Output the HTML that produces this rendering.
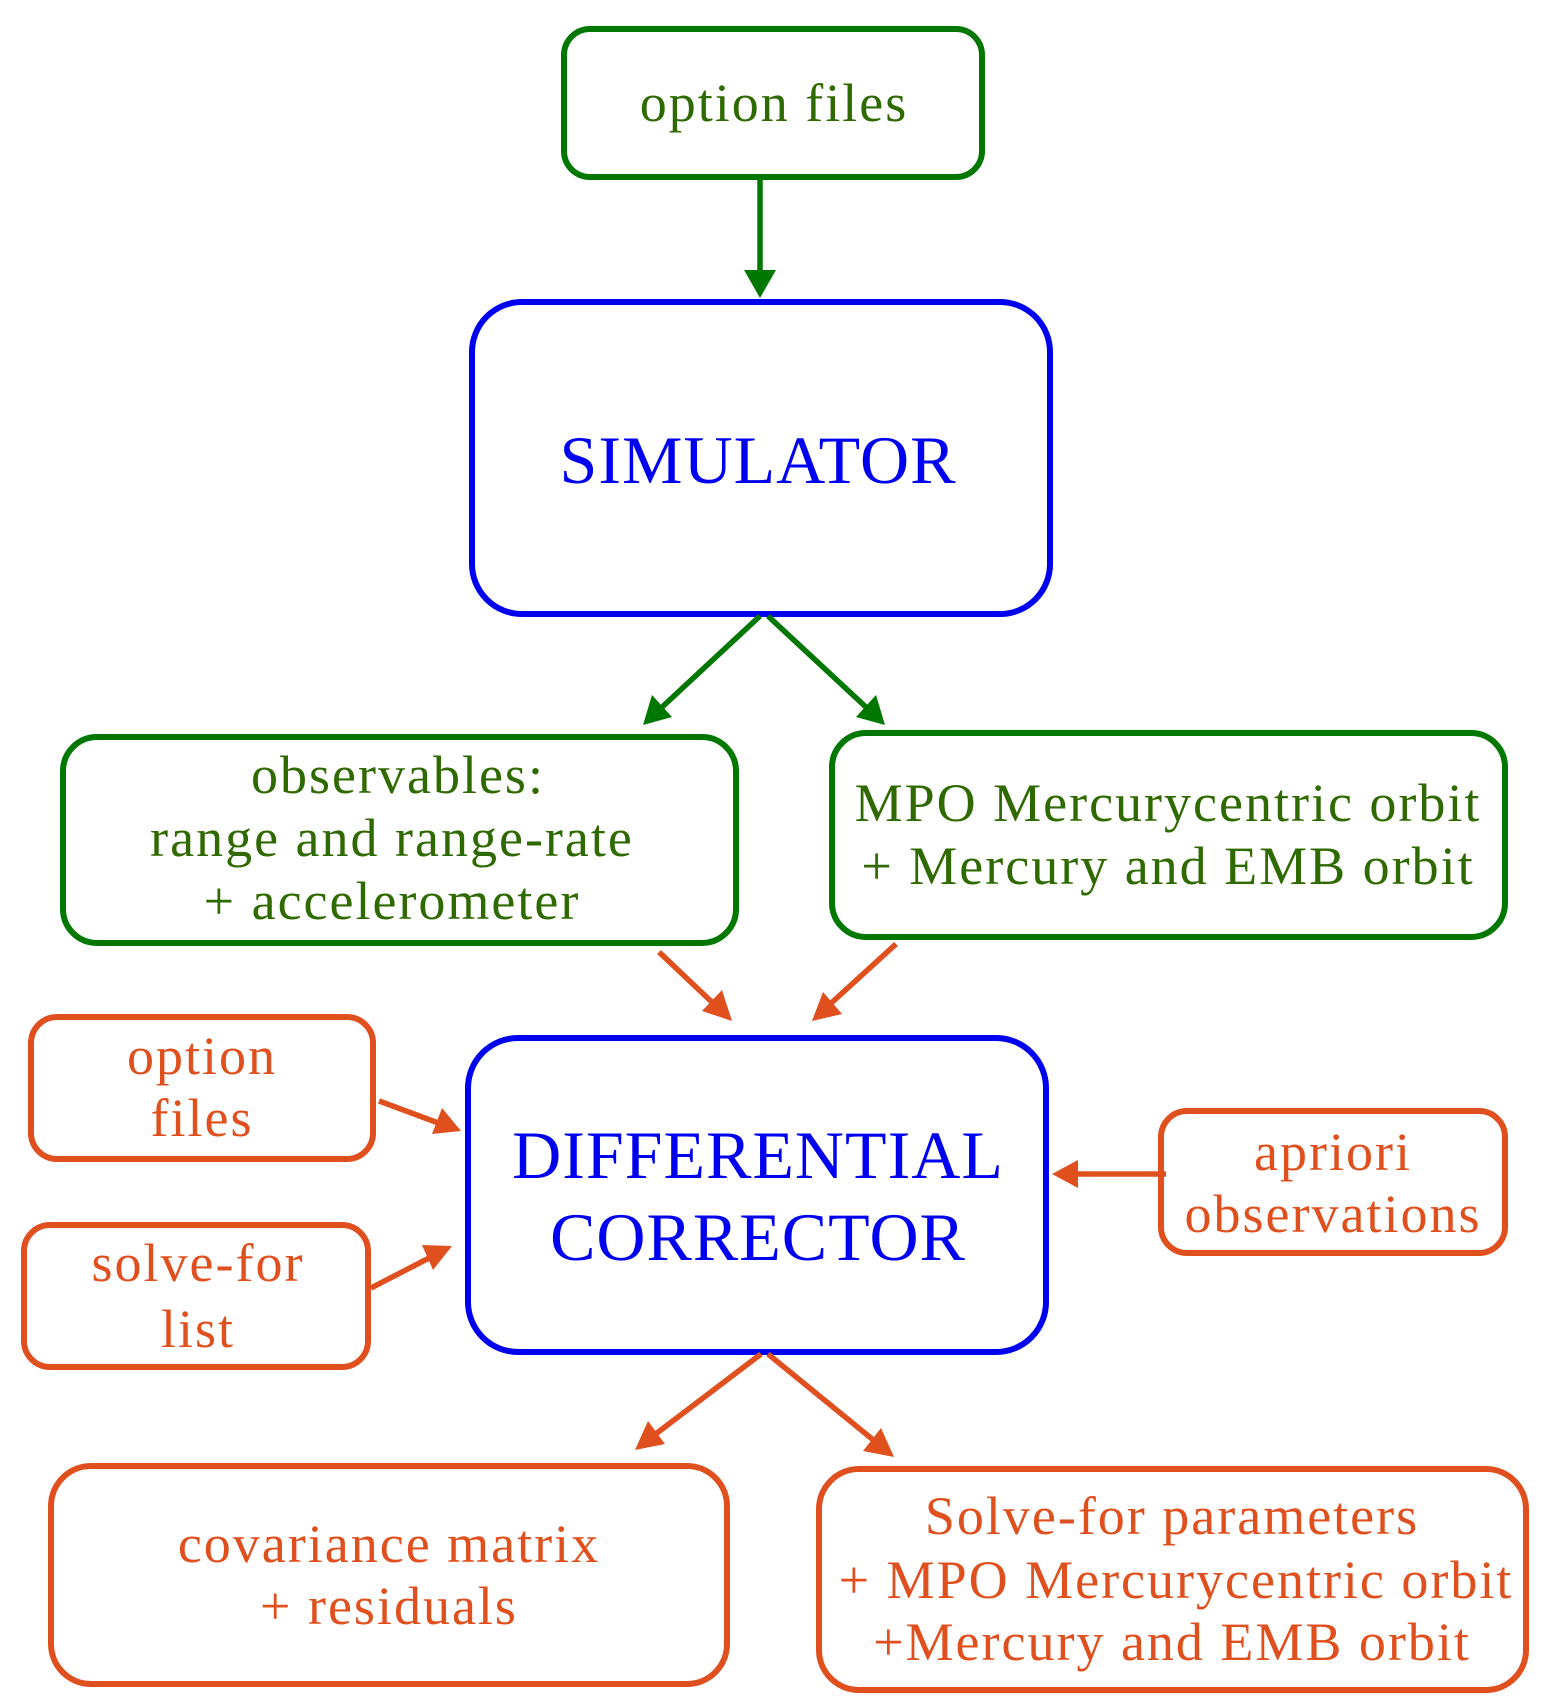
<!DOCTYPE html>
<html><head><meta charset="utf-8"><style>
html,body{margin:0;padding:0;background:#fff;}
svg{display:block}
text{font-family:"Liberation Serif",serif;text-anchor:middle}
.g{fill:#2f6a00;font-size:54px;letter-spacing:2px}
.o{fill:#e0501e;font-size:54px;letter-spacing:2px}
.b{fill:#0000f0;font-size:68px;letter-spacing:1px}
</style></head><body>
<svg width="1544" height="1704" viewBox="0 0 1544 1704" xmlns="http://www.w3.org/2000/svg">
<g fill="none" stroke-width="6">
<rect x="564" y="29" width="418" height="148" rx="26" stroke="#007800"/>
<rect x="472" y="302" width="578" height="312" rx="50" stroke="#0000f0"/>
<rect x="63" y="737" width="673" height="206" rx="34" stroke="#007800"/>
<rect x="832" y="733" width="673" height="204" rx="34" stroke="#007800"/>
<rect x="468" y="1038" width="578" height="314" rx="50" stroke="#0000f0"/>
<rect x="31" y="1017" width="342" height="142" rx="26" stroke="#e0501e"/>
<rect x="24" y="1225" width="344" height="142" rx="26" stroke="#e0501e"/>
<rect x="1161" y="1111" width="344" height="142" rx="26" stroke="#e0501e"/>
<rect x="51" y="1466" width="676" height="218" rx="40" stroke="#e0501e"/>
<rect x="819" y="1469" width="707" height="221" rx="40" stroke="#e0501e"/>
</g>
<g stroke-width="5.5">
<line x1="760" y1="178" x2="760" y2="275" stroke="#007800"/>
<line x1="760" y1="616" x2="660" y2="709" stroke="#007800"/>
<line x1="768" y1="616" x2="868" y2="709" stroke="#007800"/>
<line x1="659" y1="952" x2="716" y2="1006" stroke="#e0501e"/>
<line x1="896" y1="944" x2="828" y2="1006" stroke="#e0501e"/>
<line x1="379" y1="1101" x2="441" y2="1124" stroke="#e0501e"/>
<line x1="371" y1="1288" x2="433" y2="1256" stroke="#e0501e"/>
<line x1="1166" y1="1174" x2="1074" y2="1174" stroke="#e0501e"/>
<line x1="761" y1="1354" x2="653" y2="1436" stroke="#e0501e"/>
<line x1="768" y1="1354" x2="877" y2="1443" stroke="#e0501e"/>
</g>
<g fill="#007800">
<polygon points="760,298 744,270 776,270"/>
<polygon points="643,725 652,695 672,717"/>
<polygon points="885,725 856,717 876,695"/>
</g>
<g fill="#e0501e">
<polygon points="732,1021 702,1011 722,990"/>
<polygon points="812,1021 823,992 842,1014"/>
<polygon points="461,1131 432,1134 442,1108"/>
<polygon points="452,1246 433,1270 422,1245"/>
<polygon points="1052,1174 1078,1160 1078,1188"/>
<polygon points="635,1450 648,1421 665,1444"/>
<polygon points="894,1457 863,1451 881,1428"/>
</g>
<text class="g" x="774" y="121">option files</text>
<text class="b" x="758" y="483">SIMULATOR</text>
<text class="g" x="398" y="793">observables:</text>
<text class="g" x="392" y="856">range and range-rate</text>
<text class="g" x="392" y="919">+ accelerometer</text>
<text class="g" x="1168" y="821">MPO Mercurycentric orbit</text>
<text class="g" x="1168" y="884">+ Mercury and EMB orbit</text>
<text class="b" x="758" y="1178">DIFFERENTIAL</text>
<text class="b" x="758" y="1260">CORRECTOR</text>
<text class="o" x="202" y="1074">option</text>
<text class="o" x="202" y="1136">files</text>
<text class="o" x="198" y="1281">solve-for</text>
<text class="o" x="198" y="1347">list</text>
<text class="o" x="1333" y="1170">apriori</text>
<text class="o" x="1333" y="1232">observations</text>
<text class="o" x="389" y="1562">covariance matrix</text>
<text class="o" x="389" y="1624">+ residuals</text>
<text class="o" x="1172" y="1534">Solve-for parameters</text>
<text class="o" x="1176" y="1598">+ MPO Mercurycentric orbit</text>
<text class="o" x="1172" y="1660">+Mercury and EMB orbit</text>
</svg>
</body></html>
